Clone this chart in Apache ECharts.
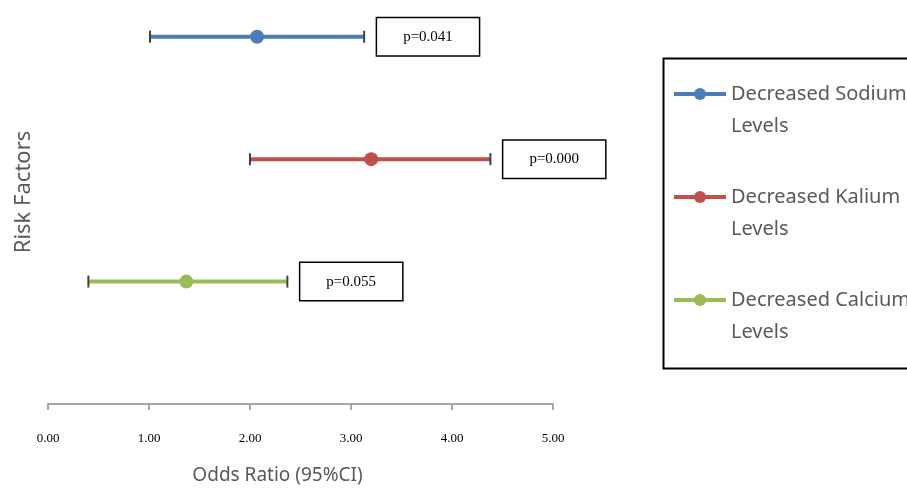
<!DOCTYPE html>
<html>
<head>
<meta charset="utf-8">
<script src="https://cdn.jsdelivr.net/npm/echarts@6/dist/echarts.min.js"></script>
<style>
  html, body { margin: 0; padding: 0; background: #fff; }
  #chart { width: 907px; height: 488px; }
</style>
</head>
<body>
<div id="chart"></div>
<script>
// risk factors, from top row to bottom row
const factors = ['Decreased Sodium Levels', 'Decreased Kalium Levels', 'Decreased Calcium Levels']
const rowPos = [3, 2, 1]
const oddsRatio = [2.07, 3.20, 1.37]
const ciLow = [1.01, 2.00, 0.40]
const ciHigh = [3.13, 4.38, 2.37]
const pValues = ['p=0.041', 'p=0.000', 'p=0.055']
const colors = ['#4a7ebb', '#c0504d', '#9bbb59']

const chart = echarts.init(document.getElementById('chart'))

const series = factors.map((name, i) => {
  const capStyle = { symbol: 'rect', symbolSize: [2, 12], itemStyle: { color: '#404040' } }
  return {
    name: name,
    type: 'line',
    symbol: 'circle',
    symbolSize: 14,
    showAllSymbol: true,
    lineStyle: { width: 4, color: colors[i] },
    itemStyle: { color: colors[i] },
    emphasis: { disabled: true },
    data: [
      Object.assign({ value: [ciLow[i], rowPos[i]] }, capStyle),
      { value: [oddsRatio[i], rowPos[i]] },
      Object.assign({
        value: [ciHigh[i], rowPos[i]],
        label: {
          show: true,
          position: 'right',
          distance: 12,
          formatter: pValues[i],
          fontFamily: 'Liberation Serif',
          fontSize: 15,
          color: '#000',
          backgroundColor: '#fff',
          borderColor: '#000',
          borderWidth: 1.5,
          padding: [11, 26]
        }
      }, capStyle)
    ]
  }
})

const option = {
  animation: false,
  grid: { left: 48, right: 354, top: 0, bottom: 84, outerBoundsMode: 'none' },
  // legend frame
  graphic: [{
    type: 'rect',
    left: 661,
    top: 56,
    shape: { width: 270, height: 310 },
    style: { fill: 'none', stroke: '#000', lineWidth: 2 },
    silent: true
  }],
  legend: {
    orient: 'vertical',
    left: 672,
    top: 46,
    padding: 0,
    itemWidth: 52,
    itemHeight: 15,
    itemGap: 7,
    lineStyle: { width: 4 },
    formatter: name => '\n' + name.replace(' Levels', '\nLevels'),
    textStyle: {
      fontFamily: 'Noto Sans',
      fontSize: 20,
      color: '#595959',
      lineHeight: 32
    },
    data: factors
  },
  xAxis: {
    type: 'value',
    min: 0,
    max: 5,
    interval: 1,
    name: 'Odds Ratio (95%CI)',
    nameLocation: 'middle',
    nameGap: 62,
    nameTextStyle: { fontFamily: 'Noto Sans', fontSize: 19, color: '#595959', padding: [0, 46, 0, 0] },
    axisLine: { lineStyle: { color: '#a6a6a6', width: 2 } },
    axisTick: { length: 6, lineStyle: { color: '#a6a6a6', width: 2 } },
    axisLabel: {
      margin: 28,
      fontFamily: 'Liberation Serif',
      fontSize: 13,
      color: '#000',
      formatter: v => v.toFixed(2)
    },
    splitLine: { show: false }
  },
  yAxis: {
    type: 'value',
    min: 0,
    max: 3.3,
    name: 'Risk Factors',
    nameLocation: 'middle',
    nameGap: 13,
    nameTextStyle: { fontFamily: 'Noto Sans', fontSize: 22, color: '#595959', padding: [0, 0, 0, 20] },
    axisLine: { show: false },
    axisTick: { show: false },
    axisLabel: { show: false },
    splitLine: { show: false }
  },
  series: series
}

chart.setOption(option)
</script>
</body>
</html>
